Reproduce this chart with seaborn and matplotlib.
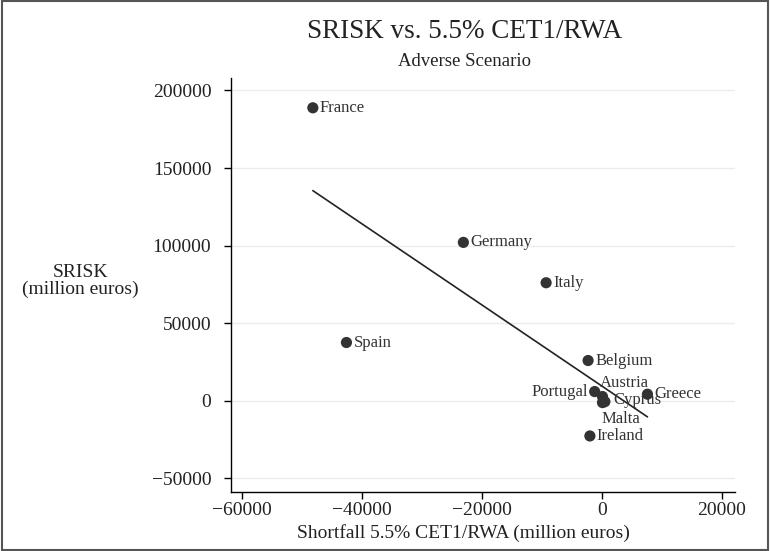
import numpy as np
import pandas as pd
import matplotlib
matplotlib.use("Agg")
import matplotlib.pyplot as plt
import seaborn as sns
from matplotlib.ticker import FuncFormatter
from matplotlib.patches import Rectangle

countries = ["France", "Germany", "Spain", "Italy", "Belgium", "Portugal",
             "Austria", "Greece", "Cyprus", "Malta", "Ireland"]
shortfall = [-48200, -23100, -42600, -9300, -2300, -1200, 100, 7600, 500, 100, -2000]
srisk = [188800, 102100, 37600, 76100, 26000, 6000, 2800, 4300, -500, -1100, -22600]
x_ticks = [-60000, -40000, -20000, 0, 20000]
y_ticks = [-50000, 0, 50000, 100000, 150000, 200000]

# label placement (offset in points, ha, va)
label_pos = {
    "Portugal": ((-5, 0), "right", "center"),
    "Austria": ((-2, 10), "left", "center"),
    "Cyprus": ((6, 1), "left", "center"),
    "Malta": ((-1, -6), "left", "top"),
}

df = pd.DataFrame({"country": countries, "shortfall": shortfall, "srisk": srisk})

sns.set_style("white")
plt.rcParams["font.family"] = ["Liberation Serif", "DejaVu Serif"]

fig = plt.figure(figsize=(7.7, 5.51), dpi=100)
ax = fig.add_axes([230.7 / 770, 59 / 551, (735 - 230.7) / 770, (492 - 78) / 551])

for yt in y_ticks:
    ax.axhline(yt, color="#ececec", lw=1, zorder=0)

sns.scatterplot(data=df, x="shortfall", y="srisk", ax=ax, color="#333333",
                s=65, edgecolor="none", zorder=3)
sns.regplot(data=df, x="shortfall", y="srisk", ax=ax, scatter=False, ci=None,
            line_kws={"color": "#222222", "lw": 1.2}, truncate=True)

for c, xv, yv in zip(countries, shortfall, srisk):
    off, ha, va = label_pos.get(c, ((5, 0), "left", "center"))
    ax.annotate(c, (xv, yv), xytext=off, textcoords="offset points",
                ha=ha, va=va, fontsize=12, color="#333333", zorder=4)

ax.set_xlim(-61900, 22200)
ax.set_ylim(-58700, 208000)
ax.set_xticks(x_ticks)
ax.set_yticks(y_ticks)
fmt = FuncFormatter(lambda v, p: f"{int(v)}".replace("-", "\u2212"))
ax.xaxis.set_major_formatter(fmt)
ax.yaxis.set_major_formatter(fmt)
ax.tick_params(axis="both", which="major", direction="out", length=5, width=1,
               color="black", labelsize=14, labelcolor="#222222",
               bottom=True, left=True)
ax.tick_params(axis="y", pad=9)
ax.tick_params(axis="x", pad=2)

for s in ["top", "right"]:
    ax.spines[s].set_visible(False)
for s in ["left", "bottom"]:
    ax.spines[s].set_color("black")
    ax.spines[s].set_linewidth(1)

ax.set_xlabel("Shortfall 5.5% CET1/RWA (million euros)", fontsize=14, color="#222222")
ax.xaxis.set_label_coords((463 - 230.7) / (735 - 230.7), -0.078)
ax.set_ylabel("SRISK\n(million euros)", fontsize=14, color="#222222",
              rotation=0, ha="center", va="center", multialignment="center",
              linespacing=1.0)
ax.yaxis.set_label_coords((80 - 230.7) / (735 - 230.7), (492 - 281) / (492 - 78))

fig.text(465 / 770, 1 - 31 / 551, "SRISK vs. 5.5% CET1/RWA", ha="center",
         va="center", fontsize=19.5, color="#222222")
fig.text(465 / 770, 1 - 62 / 551, "Adverse Scenario", ha="center",
         va="center", fontsize=13.5, color="#222222")

fig.patches.append(Rectangle((0.002, 0.002), 0.996, 0.996, transform=fig.transFigure,
                             fill=False, edgecolor="#555555", lw=1.5))

fig.savefig("out.png", dpi=100)
